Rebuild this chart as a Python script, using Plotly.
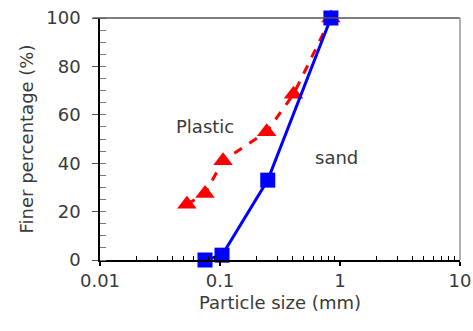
import plotly.graph_objects as go

sand_x = [0.075, 0.104, 0.25, 0.84]
sand_y = [0, 2, 33, 100]
plastic_x = [0.053, 0.075, 0.106, 0.245, 0.41, 0.84]
plastic_y = [23, 27.5, 41, 53, 68.5, 100]

FONT = "DejaVu Sans"
TXT = "#3a3a3a"
FS = 18

fig = go.Figure()
fig.add_trace(go.Scatter(x=plastic_x, y=plastic_y, mode="lines+markers",
                         line=dict(color="#ff0000", width=3, dash="dash"),
                         marker=dict(symbol="triangle-up", size=17, color="#ff0000"),
                         showlegend=False, cliponaxis=False))
fig.add_trace(go.Scatter(x=sand_x, y=sand_y, mode="lines+markers",
                         line=dict(color="#0000ff", width=3),
                         marker=dict(symbol="square", size=15, color="#0000ff"),
                         showlegend=False, cliponaxis=False))

fig.add_annotation(x=-1.125, y=55, xref="x", yref="y", text="Plastic", showarrow=False,
                   font=dict(family=FONT, size=FS, color=TXT))
fig.add_annotation(x=-0.03, y=42.5, xref="x", yref="y", text="sand", showarrow=False,
                   font=dict(family=FONT, size=FS, color=TXT))

# top and right frame (gray)
fig.add_shape(type="line", xref="x domain", yref="y domain", x0=-0.02, x1=1, y0=1, y1=1,
              line=dict(color="#555555", width=1.5))
fig.add_shape(type="line", xref="x domain", yref="y domain", x0=1, x1=1, y0=0, y1=1,
              line=dict(color="#999999", width=1.5))

fig.update_xaxes(type="log", range=[-2, 1], showgrid=False, zeroline=False, automargin=False,
                 showline=True, linecolor="black", linewidth=1.5,
                 ticks="outside", ticklen=4, tickwidth=1.5, tickcolor="black",
                 tickvals=[0.01, 0.1, 1, 10], ticktext=["0.01", "0.1", "1", "10"],
                 minor=dict(ticks="inside", ticklen=4, tickwidth=1, tickcolor="black",
                            tickvals=[m * 10 ** e for e in (-2, -1, 0) for m in range(2, 10)]),
                 tickfont=dict(family=FONT, size=FS, color=TXT),
                 title=dict(text="Particle size (mm)", font=dict(family=FONT, size=FS, color=TXT),
                            standoff=6))
fig.update_yaxes(range=[0, 100], showgrid=False, zeroline=False, automargin=False,
                 showline=True, linecolor="black", linewidth=1.5,
                 ticks="outside", ticklen=6, tickwidth=1, tickcolor="#555555",
                 tickmode="linear", tick0=0, dtick=20,
                 minor=dict(ticks="inside", ticklen=6, tickwidth=1, tickcolor="#777777",
                            tickmode="linear", tick0=0, dtick=5),
                 tickfont=dict(family=FONT, size=FS, color=TXT), ticklabelstandoff=8,
                 title=dict(text="Finer percentage (%)", font=dict(family=FONT, size=FS, color=TXT),
                            standoff=8))

fig.update_layout(width=473, height=331, margin=dict(l=100, r=13, t=18, b=71),
                  paper_bgcolor="white", plot_bgcolor="white")
fig.write_html("out.html")
